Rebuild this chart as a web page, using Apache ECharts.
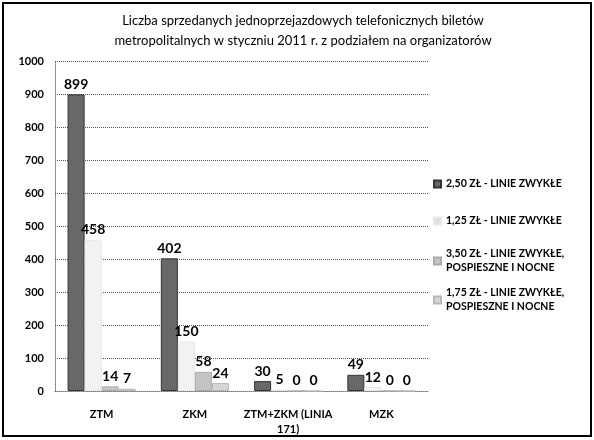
<!DOCTYPE html>
<html><head><meta charset="utf-8">
<script src="https://cdn.jsdelivr.net/npm/echarts@6/dist/echarts.min.js"></script>
<style>html,body{margin:0;padding:0;background:#fff}#c{width:594px;height:440px}</style>
</head><body><div id="c"></div>
<script>
var categories = ['ZTM', 'ZKM', 'ZTM+ZKM (LINIA\n171)', 'MZK'];
var seriesNames = ['2,50 ZŁ - LINIE ZWYKŁE', '1,25 ZŁ - LINIE ZWYKŁE', '3,50 ZŁ - LINIE ZWYKŁE,\nPOSPIESZNE I NOCNE', '1,75 ZŁ - LINIE ZWYKŁE,\nPOSPIESZNE I NOCNE'];
var v250 = [899, 402, 30, 49];
var v125 = [458, 150, 5, 12];
var v350 = [14, 58, 0, 0];
var v175 = [7, 24, 0, 0];
var yTicks = [0, 100, 200, 300, 400, 500, 600, 700, 800, 900, 1000];

var colors = ['#686868', '#f2f2f2', '#c4c4c4', '#d6d6d6'];
var borders = ['#333', '#e8e8e8', '#aaa', '#b8b8b8'];
var FONT = 'Lato, "Open Sans", sans-serif';
var chart = echarts.init(document.getElementById('c'));
var vals = [v250, v125, v350, v175];
var series = vals.map(function (d, i) {
  return {
    name: seriesNames[i], type: 'bar', data: d, barGap: '0%', barCategoryGap: '27%',
    itemStyle: { color: colors[i], borderColor: borders[i], borderWidth: 1 },
    label: { show: true, position: 'top', distance: 3, color: '#000', fontFamily: FONT, fontWeight: 'bold', fontSize: 14 }
  };
});
var legendTops = [177, 214, 247, 286];
var legends = seriesNames.map(function (n, i) {
  return {
    data: [n], left: 433, top: legendTops[i], orient: 'vertical', icon: 'rect', itemWidth: 7, itemHeight: 7,
    itemStyle: { color: colors[i] === '#f2f2f2' ? '#e0e0e0' : colors[i] },
    textStyle: { color: '#000', fontFamily: FONT, fontWeight: 'bold', fontSize: 10.5, lineHeight: 14 },
    selectedMode: false, padding: 0
  };
});
chart.setOption({
  animation: false,
  title: {
    text: 'Liczba sprzedanych jednoprzejazdowych telefonicznych biletów\nmetropolitalnych w styczniu 2011 r. z podziałem na organizatorów',
    left: 298, top: 6, textAlign: 'center',
    textStyle: { fontFamily: FONT, fontSize: 13, fontWeight: 'normal', color: '#000', lineHeight: 20 }
  },
  legend: legends,
  grid: { left: 55, right: 166, top: 61, bottom: 49 },
  xAxis: {
    type: 'category', data: categories,
    axisLine: { show: true, lineStyle: { color: '#777', type: 'dotted' } },
    axisTick: { show: false },
    axisLabel: { color: '#000', fontFamily: FONT, fontWeight: 'bold', fontSize: 11, margin: 16, lineHeight: 15, interval: 0 }
  },
  yAxis: {
    type: 'value', min: yTicks[0], max: yTicks[yTicks.length - 1], interval: yTicks[1] - yTicks[0],
    axisLine: { show: true, lineStyle: { color: '#777', type: 'dotted' } },
    axisTick: { show: false },
    axisLabel: { color: '#000', fontFamily: FONT, fontWeight: 'bold', fontSize: 11, margin: 11, formatter: function (v) { return String(v); } },
    splitLine: { lineStyle: { color: '#555', type: 'dotted' } }
  },
  series: series,
  graphic: [{ type: 'rect', shape: { x: 3, y: 3, width: 588, height: 433 }, style: { fill: 'none', stroke: '#000', lineWidth: 2 } }]
});
</script></body></html>
